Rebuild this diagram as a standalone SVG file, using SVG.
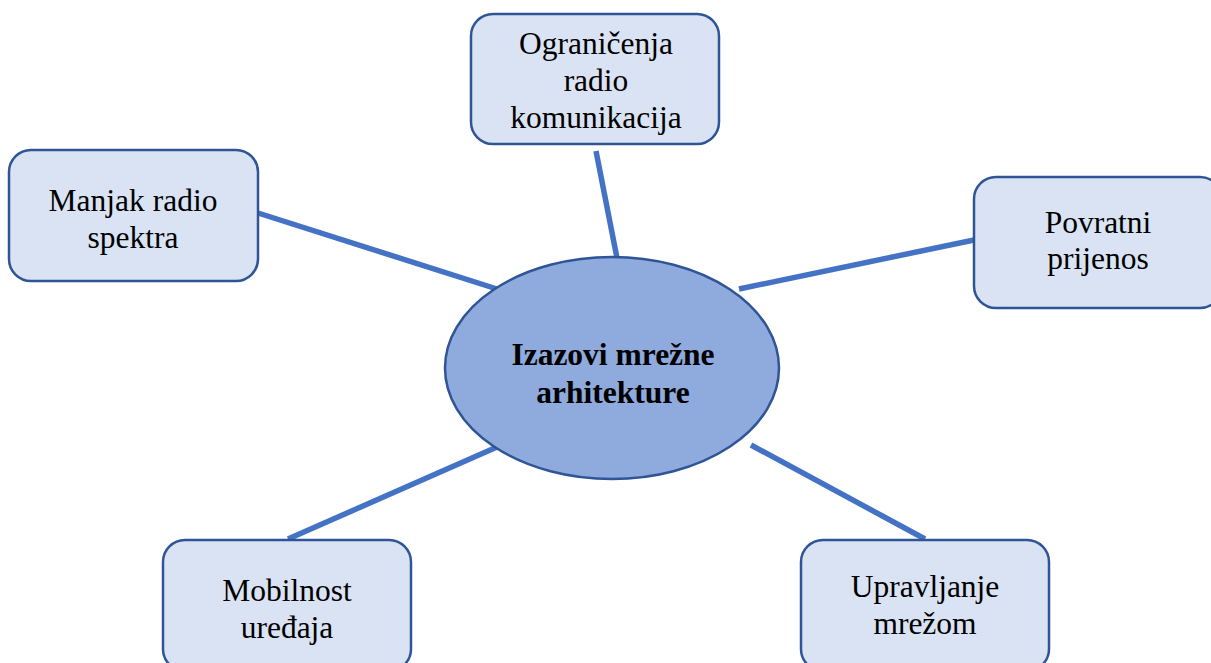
<svg xmlns="http://www.w3.org/2000/svg" width="1211" height="663" viewBox="0 0 1211 663">
<style>
.box{fill:#DAE3F3;stroke:#2F5597;stroke-width:2.5}
.hub{fill:#8FAADC;stroke:#2F5597;stroke-width:2.5}
.c{stroke:#4472C4;stroke-width:5.5;fill:none}
</style>
<rect width="1211" height="663" fill="#fff"/>
<g id="connectors">
<line class="c" x1="596" y1="151" x2="617" y2="258"/>
<line class="c" x1="258" y1="213" x2="497" y2="289"/>
<line class="c" x1="974" y1="240" x2="739" y2="289"/>
<line class="c" x1="288" y1="539" x2="497" y2="447"/>
<line class="c" x1="925" y1="539" x2="751" y2="445"/>
</g>
<g font-family="Liberation Serif, Times New Roman, serif" font-size="31.5" fill="#000" text-anchor="middle">
<g id="hub">
<ellipse class="hub" cx="612" cy="368" rx="167" ry="111"/>
<text x="613" y="365" font-weight="bold">Izazovi mrežne</text>
<text x="613" y="403" font-weight="bold">arhitekture</text>
</g>
<g id="n-top">
<rect class="box" x="471" y="14" width="248" height="130" rx="22"/>
<text x="596" y="54">Ograničenja</text>
<text x="596" y="91">radio</text>
<text x="596" y="128">komunikacija</text>
</g>
<g id="n-left">
<rect class="box" x="9" y="150" width="249" height="131" rx="22"/>
<text x="133" y="211">Manjak radio</text>
<text x="133" y="248">spektra</text>
</g>
<g id="n-right">
<rect class="box" x="974" y="177" width="248" height="131" rx="22"/>
<text x="1098" y="233">Povratni</text>
<text x="1098" y="269">prijenos</text>
</g>
<g id="n-bl">
<rect class="box" x="163" y="540" width="248" height="131" rx="22"/>
<text x="287" y="601">Mobilnost</text>
<text x="287" y="638">uređaja</text>
</g>
<g id="n-br">
<rect class="box" x="801" y="540" width="248" height="131" rx="22"/>
<text x="925" y="597">Upravljanje</text>
<text x="925" y="634">mrežom</text>
</g>
</g>
</svg>
